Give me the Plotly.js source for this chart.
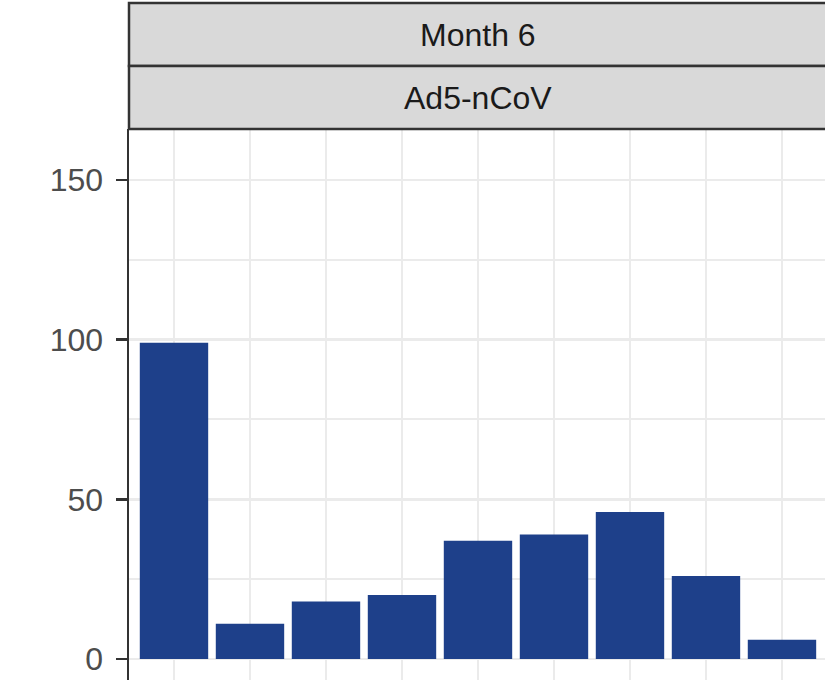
<!DOCTYPE html>
<html>
<head>
<meta charset="utf-8">
<script src="https://cdn.plot.ly/plotly-3.0.1.min.js"></script>
<style>html,body{margin:0;padding:0;background:#fff;}#chart{width:825px;height:680px;}</style>
</head>
<body>
<div id="chart"></div>
<script>
const categories = ["1", "2", "3", "4", "5", "6", "7", "8", "9"];
const counts = [99, 11, 18, 20, 37, 39, 46, 26, 6];
const yTickVals = [0, 50, 100, 150];
const yTickText = ["0", "50", "100", "150"];
const stripTop = "Month 6";
const stripBottom = "Ad5-nCoV";

const plotH = 680 - 129;
function py(px) { return 1 + (129 - px) / plotH; }

const data = [{
  type: "bar",
  x: categories,
  y: counts,
  width: 0.9,
  marker: {color: "#1e408a", line: {width: 0}},
  hoverinfo: "x+y"
}];

const layout = {
  width: 825,
  height: 680,
  margin: {l: 129, r: 0, t: 129, b: 0, pad: 0},
  paper_bgcolor: "#ffffff",
  plot_bgcolor: "#ffffff",
  showlegend: false,
  font: {family: "Liberation Sans, Arial, sans-serif", color: "#4d4d4d"},
  xaxis: {
    type: "category",
    range: [-0.592, 8.566],
    showgrid: true,
    gridcolor: "#ebebeb",
    gridwidth: 2.5,
    showticklabels: false,
    ticks: "",
    zeroline: false,
    showline: false
  },
  yaxis: {
    range: [-6.58, 165.97],
    tickvals: yTickVals,
    ticktext: yTickText,
    ticks: "outside",
    ticklen: 11,
    tickwidth: 2.5,
    tickcolor: "#333333",
    ticklabelstandoff: 6,
    tickfont: {size: 32, color: "#4d4d4d", family: "Liberation Sans, Arial, sans-serif"},
    showgrid: true,
    gridcolor: "#ebebeb",
    gridwidth: 2.5,
    minor: {dtick: 25, tick0: 0, showgrid: true, gridcolor: "#ebebeb", gridwidth: 2, ticks: ""},
    zeroline: false,
    showline: true,
    linecolor: "#333333",
    linewidth: 2.5
  },
  shapes: [
    {type: "rect", xref: "paper", yref: "paper", x0: 0, x1: 1.01, y0: py(66), y1: py(3),
     fillcolor: "#d9d9d9", line: {color: "#333333", width: 2.5}, layer: "above"},
    {type: "rect", xref: "paper", yref: "paper", x0: 0, x1: 1.01, y0: py(129), y1: py(66),
     fillcolor: "#d9d9d9", line: {color: "#333333", width: 2.5}, layer: "above"}
  ],
  annotations: [
    {xref: "paper", yref: "paper", x: (478 - 129) / (825 - 129), y: py(35), text: stripTop, showarrow: false,
     font: {size: 32, color: "#1a1a1a", family: "Liberation Sans, Arial, sans-serif"}, xanchor: "center", yanchor: "middle"},
    {xref: "paper", yref: "paper", x: (478 - 129) / (825 - 129), y: py(98), text: stripBottom, showarrow: false,
     font: {size: 32, color: "#1a1a1a", family: "Liberation Sans, Arial, sans-serif"}, xanchor: "center", yanchor: "middle"}
  ]
};

Plotly.newPlot("chart", data, layout, {displayModeBar: false, staticPlot: true});
</script>
</body>
</html>
